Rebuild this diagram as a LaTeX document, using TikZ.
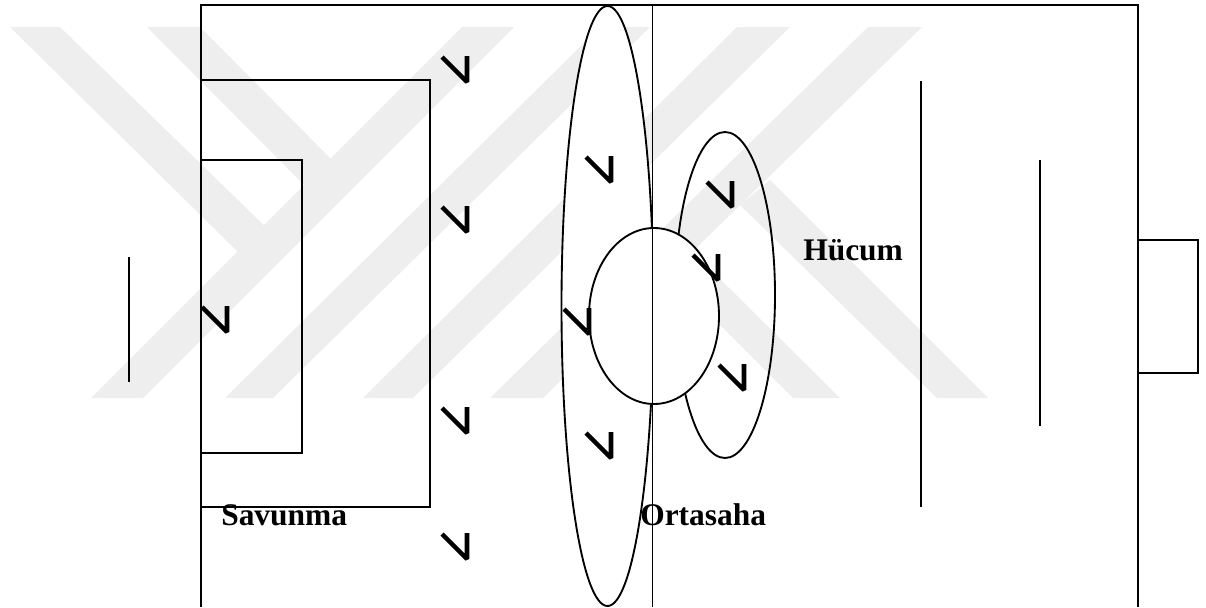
\documentclass[tikz,border=0pt]{standalone}
\usepackage{fontspec}
\setmainfont{Liberation Serif}
\definecolor{wmgray}{HTML}{EEEEEE}
\tikzset{
    wmark/.style={fill=wmgray,draw=none},
    pitch/.style={line width=1.4pt,black},
    vmark/.style={line width=3.4pt,black,line join=bevel},
    lbl/.style={anchor=base west,inner sep=0pt,font=\fontsize{23.6}{24}\selectfont\bfseries}
}
\begin{document}
\begin{tikzpicture}[x=0.75pt,y=-0.75pt]
    \useasboundingbox (0,0) rectangle (1206,607);
    \foreach \a/\b/\c/\d in {10/60/275/236,147/200/345/173}
        \fill[wmark] (\a,27) -- (\b,27) -- (\c,\d) -- (\c-25,\d+28) -- cycle;
    \foreach \a/\b/\c/\d in {91/143/514/462,225/273/650/600,363/413/790/737,490/543/922/868}
        \fill[wmark] (\a,398) -- (\b,398) -- (\c,27) -- (\d,27) -- cycle;
    \fill[wmark] (793,398) -- (840,398) -- (693,252) -- (645,250) -- cycle;
    \fill[wmark] (937,398) -- (988,398) -- (770,180) -- (740,205) -- cycle;
    \draw[pitch,fill=white] (607.5,306) ellipse [x radius=46,y radius=300];
    \draw[pitch] (725,295) ellipse [x radius=50,y radius=163];
    \draw[pitch,fill=white] (654,316) ellipse [x radius=65,y radius=88];
    \draw[pitch] (201,607) -- (201,5) -- (1138,5) -- (1138,607);
    \draw[pitch] (652.5,5) -- (652.5,607);
    \draw[pitch] (201,80) -- (430,80) -- (430,507) -- (201,507);
    \draw[pitch] (201,160) -- (302,160) -- (302,453) -- (201,453);
    \draw[pitch] (129,257) -- (129,382);
    \draw[pitch] (921,81) -- (921,507);
    \draw[pitch] (1040,160) -- (1040,426);
    \draw[pitch] (1138,240) -- (1198,240) -- (1198,373) -- (1138,373);
    \foreach \x/\y in {441/56,441/206,441/407,441/533,201/306,585/156,706/181,692/254,563/308,718/364,585/432}
        \draw[vmark] (\x+1,\y+1) -- (\x+26,\y+26) -- (\x+26,\y);
    \node[lbl] (savunma) at (221,525) {Savunma};
    \node[lbl] (ortasaha) at (640,525) {Ortasaha};
    \node[lbl] (hucum) at (803,260) {Hücum};
\end{tikzpicture}
\end{document}
